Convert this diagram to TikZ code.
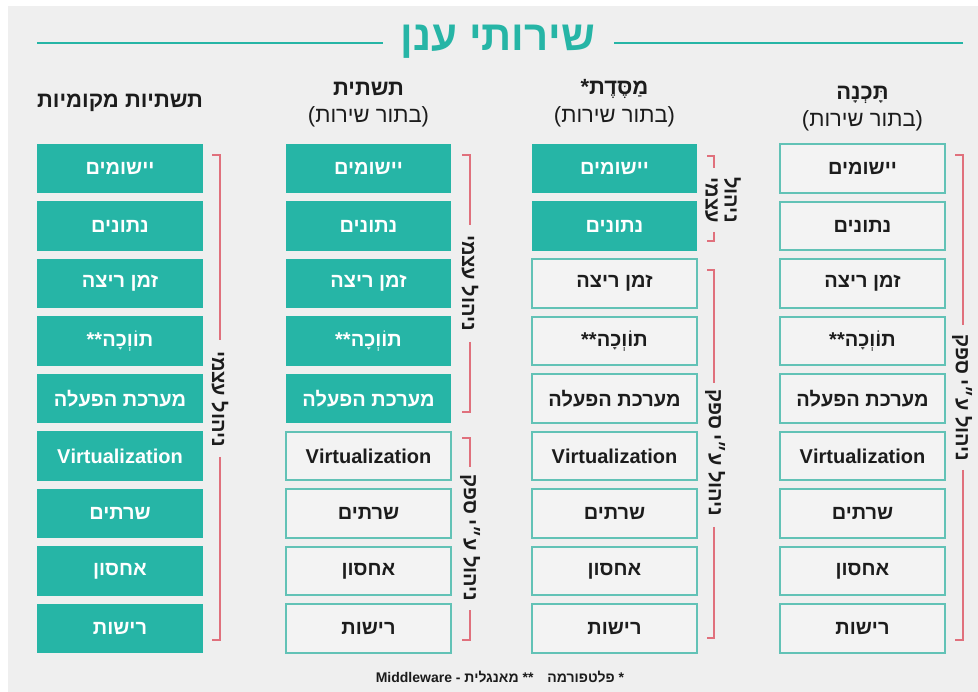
\documentclass[tikz,border=0pt]{standalone}
\usepackage{fontspec}
\setmainfont{Liberation Sans}
\newfontfamily\hb[Script=Hebrew]{Liberation Sans}
\TeXXeTstate=1
\definecolor{tealf}{RGB}{38,181,166}
\definecolor{teall}{RGB}{98,194,182}
\definecolor{bgc}{RGB}{239,239,239}
\definecolor{boxbg}{RGB}{243,243,243}
\definecolor{redb}{RGB}{224,112,124}
\definecolor{ink}{RGB}{28,28,28}
\newcommand\heb[1]{\beginR #1\endR}
\newcommand\paren[1]{)\heb{#1}(}
\begin{document}
\begin{tikzpicture}[x=1pt,y=-1pt,
 cell/.style={minimum width=164.5pt,minimum height=48.5pt,inner sep=0pt,font=\hb\bfseries\fontsize{20}{24}\selectfont},
 full/.style={cell,fill=tealf,draw=tealf,line width=1.2pt,text=white},
 hollow/.style={cell,fill=boxbg,draw=teall,line width=1.6pt,text=ink},
 br/.style={draw=redb,line width=1.6pt},
 side/.style={rotate=-90,inner sep=0pt,font=\hb\bfseries\fontsize{20}{19}\selectfont,text=ink,align=center},
 head/.style={font=\hb\bfseries\fontsize{22}{26}\selectfont,text=ink},
 subh/.style={font=\hb\fontsize{22}{24}\selectfont,text=ink},
 tline/.style={draw=tealf,line width=2pt}
]
\useasboundingbox (0,0) rectangle (978,692);
\fill[white] (0,0) rectangle (978,692);
\fill[bgc] (8,6) rectangle (978,692);

% title
\node[font=\hb\bfseries\fontsize{42}{48}\selectfont,text=tealf,inner xsep=18pt,inner ysep=0pt] (title) at (498,42) {\heb{שירותי ענן}};
\coordinate (tl) at (37,43);
\coordinate (tr) at (963,43);
\draw[tline] (tl) -- (tl -| title.west);
\draw[tline] (tr) -- (tr -| title.east);

% headers
\node[head] (h4) at (862.5,95) {\heb{תָּכְנָה}};
\node[subh] (h4s) at (862.5,121) {\paren{בתור שירות}};
\node[head] (h3) at (614.5,89) {\heb{מַסֶּדֶת\kern0pt*}};
\node[subh] (h3s) at (614.5,117) {\paren{בתור שירות}};
\node[head] (h2) at (368.5,89) {\heb{תשתית}};
\node[subh] (h2s) at (368.5,117) {\paren{בתור שירות}};
\node[head] (h1) at (120,103) {\heb{תשתיות מקומיות}};

% cells
\foreach \ci/\xx/\nn in {1/120/9,2/368.5/5,3/614.5/2,4/862.5/0}{
  \foreach \tt [count=\ri] in {{\heb{יישומים}},{\heb{נתונים}},{\heb{זמן ריצה}},{\heb{תוֹוְכָה\kern0pt**}},{\heb{מערכת הפעלה}},{Virtualization},{\heb{שרתים}},{\heb{אחסון}},{\heb{רישות}}}{
    \ifnum\ri>\nn
      \node[hollow] (c\ci r\ri) at (\xx,{168.5+57.5*(\ri-1)}) {\tt};
    \else
      \node[full] (c\ci r\ri) at (\xx,{168.5+57.5*(\ri-1)}) {\tt};
    \fi
  }
}

% side labels
\node[side] (s1) at (220,399) {\heb{ניהול עצמי}};
\node[side] (s2a) at (470,283) {\heb{ניהול עצמי}};
\node[side] (s2b) at (470,538) {\heb{ניהול ע״י ספק}};
\node[side] (s3a) at (723,200) {\heb{ניהול}\\\heb{עצמי}};
\node[side] (s3b) at (715,453) {\heb{ניהול ע״י ספק}};
\node[side] (s4) at (962,398) {\heb{ניהול ע״י ספק}};

% brackets
\draw[br] (212,155) -- (220,155) -- (220,340);
\draw[br] (220,457) -- (220,640) -- (212,640);
\draw[br] (462,155) -- (470,155) -- (470,225);
\draw[br] (470,342) -- (470,412) -- (462,412);
\draw[br] (462,438) -- (470,438) -- (470,467);
\draw[br] (470,610) -- (470,640) -- (462,640);
\draw[br] (707,156) -- (714,156) -- (714,168);
\draw[br] (714,232) -- (714,241) -- (707,241);
\draw[br] (707,270) -- (714,270) -- (714,383);
\draw[br] (714,527) -- (714,638) -- (707,638);
\draw[br] (955,155) -- (963,155) -- (963,325);
\draw[br] (963,470) -- (963,640) -- (955,640);

% footnote
\node[font=\hb\bfseries\fontsize{14}{16}\selectfont,text=ink] (foot) at (500,677) {\heb{*\kern0pt\ פלטפורמה\quad **\kern0pt\ מאנגלית - \beginL Middleware\endL}};
\end{tikzpicture}
\end{document}
